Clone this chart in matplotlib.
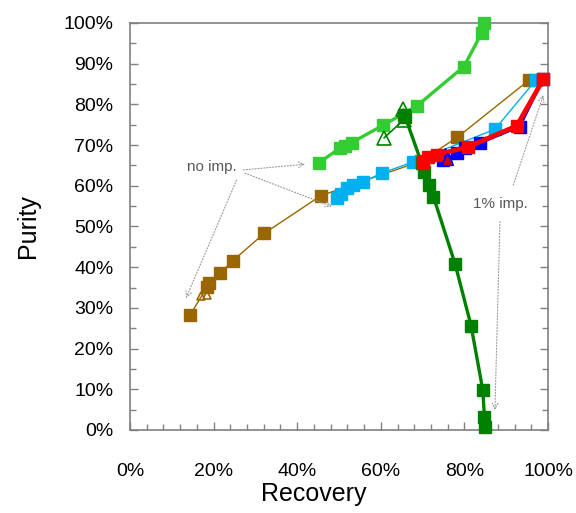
import matplotlib
matplotlib.use("Agg")
import matplotlib.pyplot as plt
from matplotlib.ticker import MultipleLocator, PercentFormatter

plt.rcParams["font.family"] = ["Liberation Sans", "DejaVu Sans"]

# recovery / purity pairs (percent) for each run
lime_rec = [45.2, 50.2, 51.5, 53.0, 60.6, 68.6, 79.9, 84.1, 84.8]
lime_pur = [65.7, 69.2, 69.8, 70.6, 74.9, 79.6, 89.3, 97.5, 100.0]

dkgreen_rec = [65.6, 65.8, 69.8, 70.3, 71.6, 72.6, 77.8, 81.6, 84.4, 84.8, 84.9]
dkgreen_pur = [77.4, 77.0, 65.5, 63.5, 60.2, 57.3, 40.7, 25.6, 9.8, 3.1, 0.8]

dkgreen_tri_rec = [60.8, 65.5, 65.4]
dkgreen_tri_pur = [71.8, 76.2, 78.8]

brown_rec = [14.4, 18.5, 19.0, 21.5, 24.6, 32.1, 45.7, 69.5, 78.3, 95.5]
brown_pur = [28.3, 35.2, 36.0, 38.5, 41.6, 48.3, 57.6, 66.0, 71.9, 86.0]
brown_tri_rec = [17.1, 18.5]
brown_tri_pur = [32.8, 33.2]

cyan_rec = [49.6, 50.5, 51.8, 53.4, 55.8, 60.2, 67.8, 87.3, 97.1]
cyan_pur = [57.1, 58.0, 59.4, 60.2, 61.0, 63.1, 65.9, 73.9, 86.0]

blue_rec = [74.9, 78.2, 80.1, 83.7, 93.3, 98.9]
blue_pur = [66.3, 68.0, 69.2, 70.4, 74.5, 86.2]
blue_tri_rec = [75.4]
blue_tri_pur = [67.6]

red_rec = [70.0, 70.2, 71.4, 73.4, 80.9, 92.5, 98.9]
red_pur = [65.5, 65.9, 67.0, 67.6, 69.6, 74.7, 86.2]
red_tri_rec = [75.8]
red_tri_pur = [66.7]

fig = plt.figure(figsize=(5.76, 5.13), dpi=100)
ax = fig.add_axes([0.2257, 0.1618, 0.7257, 0.7934])

ms = 9.2
kw = dict(clip_on=False)
ax.plot(brown_rec, brown_pur, color="#996600", lw=1.0, marker="s", ms=ms, zorder=2, **kw)
ax.plot(brown_tri_rec, brown_tri_pur, color="#996600", lw=0, marker="^", ms=6,
        mfc="none", mew=1.2, zorder=2, **kw)
ax.plot(cyan_rec, cyan_pur, color="#00B0F0", lw=1.0, marker="s", ms=ms, zorder=3, **kw)
ax.plot(lime_rec, lime_pur, color="#33CC33", lw=2.4, marker="s", ms=ms, zorder=3, **kw)
ax.plot(dkgreen_tri_rec, dkgreen_tri_pur, color="#008000", lw=1.2, marker="^", ms=10,
        mfc="none", mew=1.2, zorder=4, **kw)
ax.plot(dkgreen_rec, dkgreen_pur, color="#008000", lw=2.4, marker="s", ms=ms, zorder=4, **kw)
ax.plot(blue_rec, blue_pur, color="#0000FF", lw=1.5, marker="s", ms=ms, zorder=5, **kw)
ax.plot(blue_tri_rec, blue_tri_pur, color="#0000FF", lw=0, marker="^", ms=10, zorder=5, **kw)
ax.plot(red_rec, red_pur, color="#FF0000", lw=3.4, marker="s", ms=ms, zorder=6, **kw)
ax.plot(red_tri_rec, red_tri_pur, color="#CC0000", lw=0, marker="^", ms=8,
        mec="#0000FF", mew=1.0, zorder=6, **kw)

# annotations
arrow = dict(arrowstyle="->", color="#999999", lw=0.8, linestyle=":",
             shrinkA=0, shrinkB=0)
ax.text(19.5, 64.5, "no imp.", fontsize=11, color="#595959", ha="center", va="center")
ax.annotate("", xy=(41.9, 65.3), xytext=(27.1, 63.9), arrowprops=arrow)
ax.annotate("", xy=(48.3, 54.9), xytext=(27.5, 63.1), arrowprops=arrow)
ax.annotate("", xy=(13.4, 32.4), xytext=(25.5, 61.4), arrowprops=arrow)
ax.text(88.5, 55.5, "1% imp.", fontsize=11, color="#595959", ha="center", va="center")
ax.annotate("", xy=(98.9, 82.3), xytext=(91.7, 60.2), arrowprops=arrow)
ax.annotate("", xy=(87.3, 4.9), xytext=(88.5, 51.2), arrowprops=arrow)

ax.set_xlim(0, 100)
ax.set_ylim(0, 100)
ax.xaxis.set_major_locator(MultipleLocator(20))
ax.xaxis.set_minor_locator(MultipleLocator(4))
ax.yaxis.set_major_locator(MultipleLocator(10))
ax.yaxis.set_minor_locator(MultipleLocator(5))
ax.xaxis.set_major_formatter(PercentFormatter(decimals=0))
ax.yaxis.set_major_formatter(PercentFormatter(decimals=0))

for s in ax.spines.values():
    s.set_color("#808080")
    s.set_linewidth(1.2)
ax.tick_params(which="both", direction="in", color="#808080", right=True,
               labelsize=14)
ax.tick_params(which="major", length=6, width=1.0)
ax.tick_params(which="minor", length=4, width=1.0)
ax.tick_params(axis="x", which="major", pad=24)
ax.tick_params(axis="y", which="major", pad=12)

ax.set_xlabel("Recovery", fontsize=18)
ax.xaxis.set_label_coords(0.44, -0.128)
ax.set_ylabel("Purity", fontsize=18, labelpad=17)

fig.savefig("out.png", dpi=100)
